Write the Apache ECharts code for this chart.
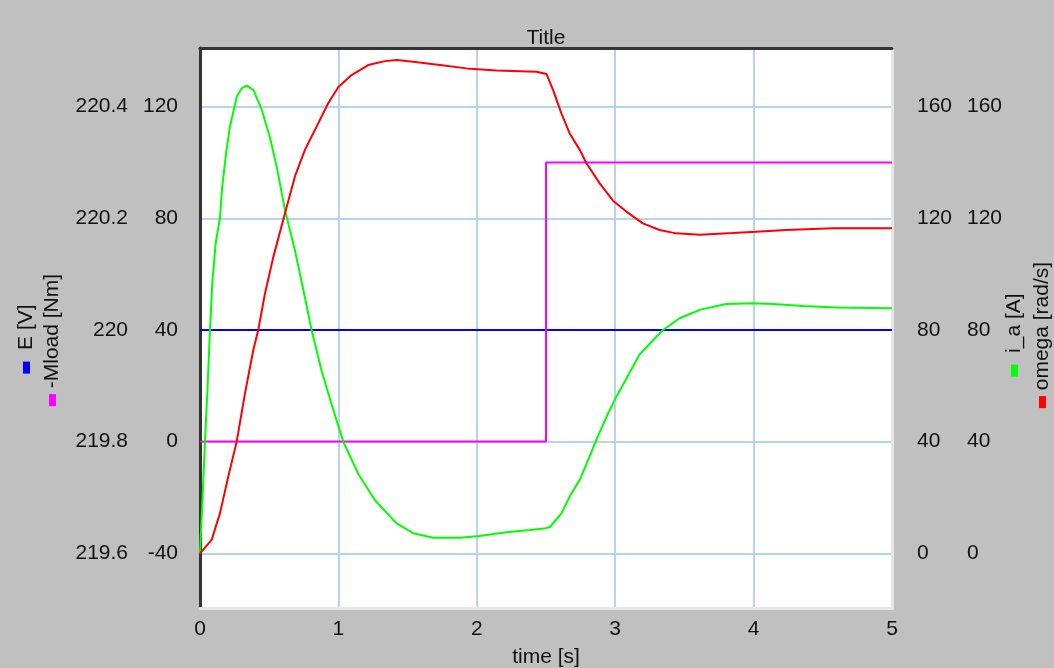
<!DOCTYPE html>
<html><head><meta charset="utf-8">
<script src="https://cdn.jsdelivr.net/npm/echarts@6/dist/echarts.min.js"></script>
<style>html,body{margin:0;padding:0;background:#c0c0c0}#c{width:1054px;height:668px}</style>
</head><body><div id="c"></div><script>
// ---- data ----
const xTickStep = 1;
const eTime = [0, 5];
const eVal = [220, 220];
const mloadTime = [0, 2.5, 2.5, 5];
const mloadVal = [0, 0, 100, 100];
const iaTime = [0,0.017,0.036,0.056,0.072,0.089,0.113,0.144,0.160,0.190,0.217,0.265,0.300,0.337,0.385,0.445,0.505,0.554,0.614,0.686,0.746,0.806,0.878,0.950,1.035,1.143,1.264,1.420,1.540,1.685,1.877,2.020,2.214,2.383,2.500,2.530,2.611,2.684,2.744,2.804,2.864,2.937,3.008,3.080,3.177,3.345,3.466,3.610,3.800,3.995,4.140,4.360,4.597,5.000];
const iaVal  = [0,18,40,61,80,97,111,120,131,144,153,163.5,166.5,167.5,166,159,149,138.5,123,108.5,94.5,80,65.5,53.5,40,28.5,19,10.7,7.2,5.6,5.6,6.2,7.5,8.3,9.0,9.5,14.3,21.5,26.3,33.4,40.6,48.9,56.1,62.5,71.3,80,84.2,87.2,89.3,89.6,89.3,88.6,88,87.8];
const omegaTime = [0,0.084,0.144,0.204,0.265,0.325,0.385,0.421,0.469,0.529,0.614,0.686,0.758,0.830,0.926,1.000,1.095,1.215,1.336,1.420,1.540,1.733,1.926,2.142,2.431,2.503,2.551,2.611,2.671,2.744,2.792,2.888,2.984,3.080,3.200,3.320,3.440,3.610,3.850,4.020,4.235,4.573,5.000];
const omegaVal  = [0,4.8,14.3,27.4,40,57.3,72.8,80,93,106,121.8,135,144.5,151.6,161.2,167,171.3,174.9,176.3,176.7,176.1,174.9,173.7,172.9,172.5,171.7,166,157.6,150.4,144.5,139.7,132.5,126.3,122.4,118.2,115.8,114.6,114.1,114.7,115.2,115.8,116.4,116.4];
const mloadRange = [-59.6, 141];
const eRange = [219.502, 220.505];
const rightRange = [-19.6, 181];

// ---- chart ----
const F = 'Liberation Sans';
const TXT = '#111';
const zip = (a, b) => a.map((t, i) => [t, b[i]]);
const chart = echarts.init(document.getElementById('c'), null, {renderer: 'canvas'});

function label(extra) {
  return Object.assign({color: TXT, fontSize: 21, fontFamily: F, showMinLabel: false, showMaxLabel: false}, extra);
}
function nameStyle(col, shift) {
  return {color: TXT, fontSize: 21, fontFamily: F, padding: [0, 2 * shift, 0, 0],
          rich: {m: {width: 12, height: 7, backgroundColor: col}}};
}

chart.setOption({
  animation: false,
  backgroundColor: '#c0c0c0',
  title: {text: 'Title', left: 546, top: 28, textAlign: 'center', padding: 0,
          textStyle: {color: TXT, fontSize: 21, fontFamily: F, fontWeight: 'normal'}},
  grid: {left: 200, right: 162, top: 48, bottom: 60, show: true, backgroundColor: '#ffffff',
         borderWidth: 0, containLabel: false, outerBoundsMode: 'none'},
  xAxis: [
    {type: 'value', min: 0, max: 5, interval: xTickStep, position: 'bottom',
     name: 'time [s]', nameLocation: 'middle', nameGap: 39, nameMoveOverlap: false,
     nameTextStyle: {color: TXT, fontSize: 21, fontFamily: F},
     axisLine: {show: true, onZero: false, lineStyle: {color: '#e6e6e6', width: 3}},
     axisTick: {show: false},
     axisLabel: {color: TXT, fontSize: 21, fontFamily: F, margin: 11},
     splitLine: {show: true, showMinLine: false, showMaxLine: false, lineStyle: {color: '#b9d3ee', width: 2}}},
    {type: 'value', min: 0, max: 5, interval: xTickStep, position: 'top',
     axisLine: {show: true, onZero: false, lineStyle: {color: '#333333', width: 3}},
     axisTick: {show: false}, axisLabel: {show: false}, splitLine: {show: false}}
  ],
  yAxis: [
    {type: 'value', position: 'left', offset: 50, min: eRange[0], max: eRange[1],
     minInterval: 0.2, maxInterval: 0.2, splitNumber: 5,
     name: '{m| }  E [V]', nameLocation: 'middle', nameRotate: 90, nameGap: 113, nameMoveOverlap: false,
     nameTextStyle: nameStyle('#0000ff', 11),
     axisLine: {show: false}, axisTick: {show: false}, splitLine: {show: false},
     axisLabel: label({margin: 22})},
    {type: 'value', position: 'left', offset: 0, min: mloadRange[0], max: mloadRange[1],
     minInterval: 40, maxInterval: 40, splitNumber: 5,
     name: '{m| } -Mload [Nm]', nameLocation: 'middle', nameRotate: 90, nameGap: 137, nameMoveOverlap: false,
     nameTextStyle: nameStyle('#ff00ff', 12),
     axisLine: {show: true, onZero: false, lineStyle: {color: '#333333', width: 3}}, axisTick: {show: false},
     splitLine: {show: true, showMinLine: false, showMaxLine: false, lineStyle: {color: '#b9d3ee', width: 2}},
     axisLabel: label({margin: 22})},
    {type: 'value', position: 'right', offset: 0, min: rightRange[0], max: rightRange[1],
     minInterval: 40, maxInterval: 40, splitNumber: 5,
     name: '{m| }  i_a [A]', nameLocation: 'middle', nameRotate: 90, nameGap: 112, nameMoveOverlap: false,
     nameTextStyle: nameStyle('#00ff00', 7),
     axisLine: {show: true, onZero: false, lineStyle: {color: '#e6e6e6', width: 3}}, axisTick: {show: false},
     splitLine: {show: false},
     axisLabel: label({margin: 25})},
    {type: 'value', position: 'right', offset: 50, min: rightRange[0], max: rightRange[1],
     minInterval: 40, maxInterval: 40, splitNumber: 5,
     name: '{m| } omega [rad/s]', nameLocation: 'middle', nameRotate: 90, nameGap: 90, nameMoveOverlap: false,
     nameTextStyle: nameStyle('#ff0000', 7),
     axisLine: {show: false}, axisTick: {show: false}, splitLine: {show: false},
     axisLabel: label({margin: 25})}
  ],
  series: [
    {name: 'E [V]', type: 'line', xAxisIndex: 0, yAxisIndex: 0, data: zip(eTime, eVal),
     showSymbol: false, lineStyle: {color: '#0000ff', width: 2}, itemStyle: {color: '#0000ff'}, silent: true},
    {name: '-Mload [Nm]', type: 'line', xAxisIndex: 0, yAxisIndex: 1, data: zip(mloadTime, mloadVal),
     showSymbol: false, lineStyle: {color: '#ff00ff', width: 2}, itemStyle: {color: '#ff00ff'}, silent: true},
    {name: 'i_a [A]', type: 'line', xAxisIndex: 0, yAxisIndex: 2, data: zip(iaTime, iaVal),
     showSymbol: false, lineStyle: {color: '#00ff00', width: 2}, itemStyle: {color: '#00ff00'}, silent: true},
    {name: 'omega [rad/s]', type: 'line', xAxisIndex: 0, yAxisIndex: 3, data: zip(omegaTime, omegaVal),
     showSymbol: false, lineStyle: {color: '#ff0000', width: 2}, itemStyle: {color: '#ff0000'}, silent: true}
  ]
});
</script></body></html>
